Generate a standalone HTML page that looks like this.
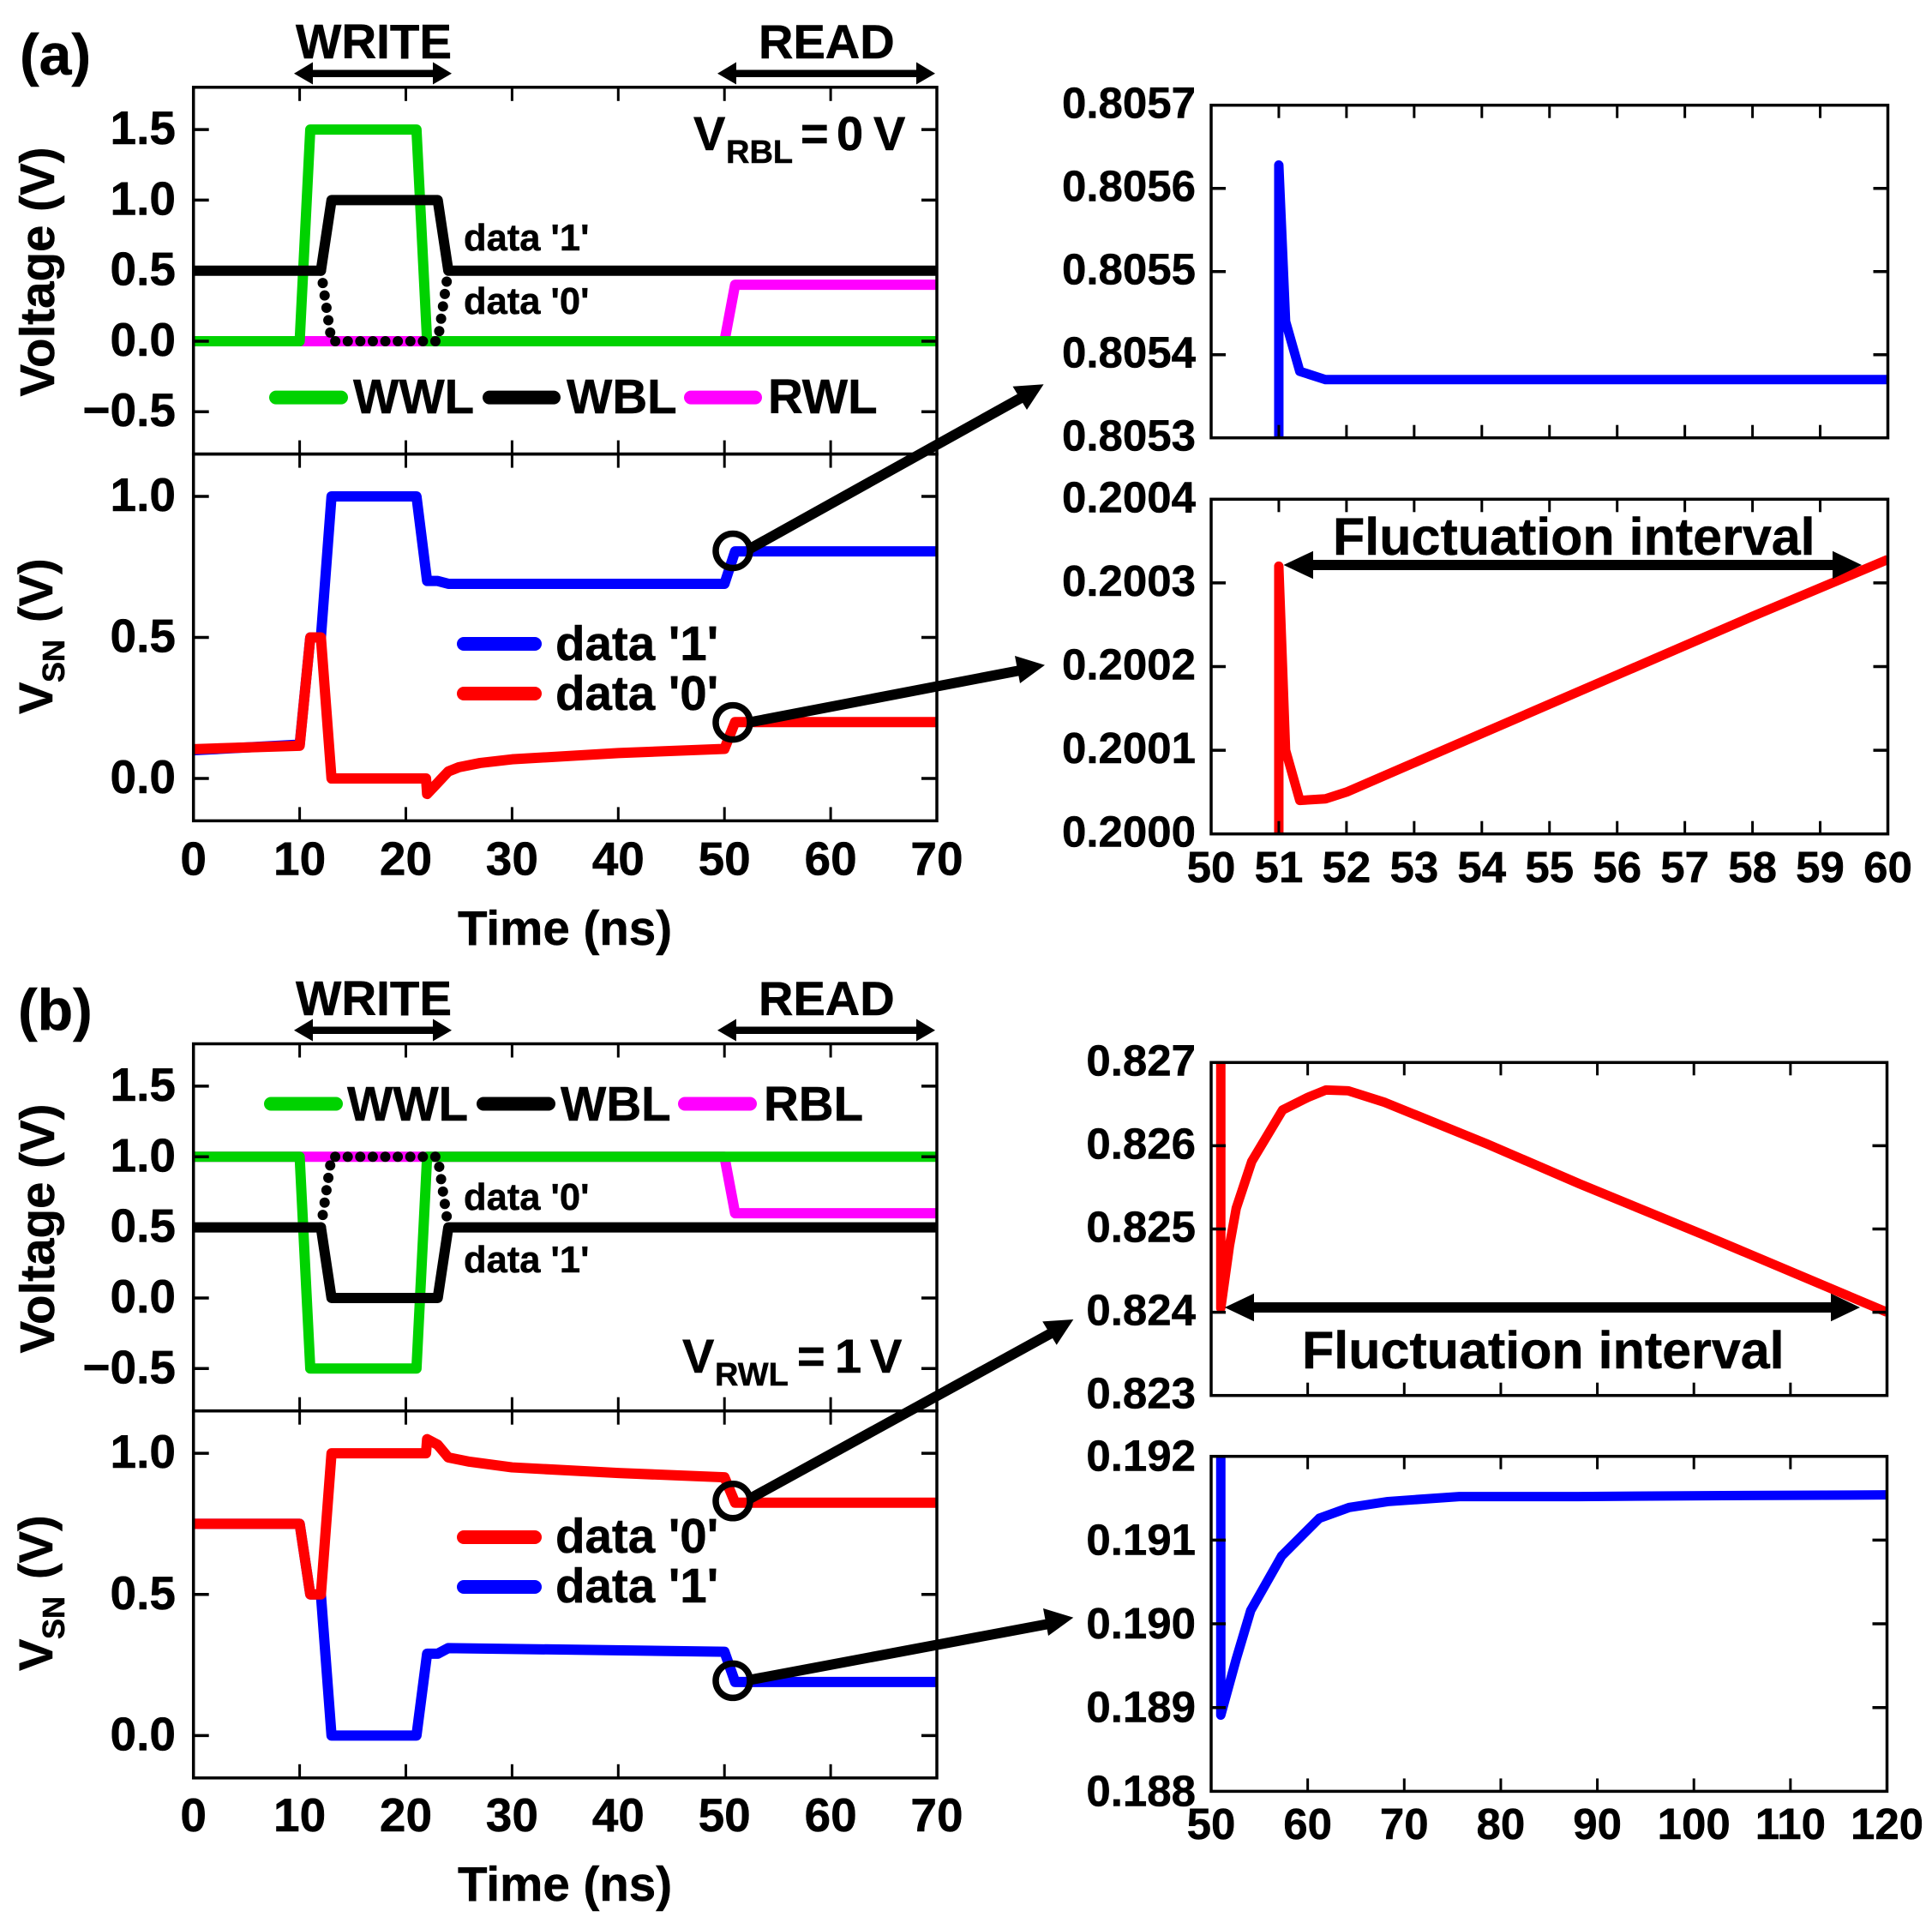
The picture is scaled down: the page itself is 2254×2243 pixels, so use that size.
<!DOCTYPE html>
<html lang="en">
<head>
<meta charset="utf-8">
<title>Transient waveforms of storage node voltage</title>
<style>
html,body{margin:0;padding:0;background:#fff;width:2254px;height:2243px;overflow:hidden}
svg{display:block}
text{font-family:"Liberation Sans",Arial,sans-serif;font-weight:bold;fill:#000;stroke:#000;stroke-width:0.5px}
</style>
</head>
<body>
<svg id="figure" xmlns="http://www.w3.org/2000/svg" width="2254" height="2243" viewBox="0 0 2254 2243">
<rect x="0" y="0" width="2254" height="2243" fill="#fff"/>
<g id="plots"></g>

<g>
<text x="23" y="87" font-size="68">(a)</text>
<text x="345" y="68" font-size="56.5">WRITE</text>
<text x="885" y="68" font-size="56">READ</text>
<g><rect x="362" y="81.5" width="146" height="8.5"/><polygon points="343,85.7 365,72.5 365,98.5"/><polygon points="527,85.7 505,72.5 505,98.5"/></g>
<g><rect x="856" y="81.5" width="216" height="8.5"/><polygon points="837,85.7 859,72.5 859,98.5"/><polygon points="1091,85.7 1069,72.5 1069,98.5"/></g>
<g>
<text x="809" y="175" font-size="56">V</text><text x="847" y="190" font-size="38">RBL</text><text x="934" y="175" font-size="56">=</text><text x="976" y="175" font-size="56">0</text><text x="1019" y="175" font-size="56">V</text>
</g>
<g>
<line x1="322" y1="463.6" x2="398" y2="463.6" stroke="#00d200" stroke-width="16" stroke-linecap="round"/>
<text x="412" y="482" font-size="56.5">WWL</text>
<line x1="571" y1="463.6" x2="646" y2="463.6" stroke="#000" stroke-width="16" stroke-linecap="round"/>
<text x="661" y="482" font-size="56.5">WBL</text>
<line x1="806" y1="463.6" x2="881" y2="463.6" stroke="#ff00ff" stroke-width="16" stroke-linecap="round"/>
<text x="896" y="482" font-size="56.5">RWL</text>
</g>
<text x="541" y="292" font-size="43.5">data '1'</text>
<text x="541" y="366" font-size="43.5">data '0'</text>
<g>
<line x1="541" y1="751" x2="624" y2="751" stroke="#0000ff" stroke-width="16" stroke-linecap="round"/>
<text x="648" y="770" font-size="56.5">data '1'</text>
<line x1="541" y1="809" x2="624" y2="809" stroke="#ff0000" stroke-width="16" stroke-linecap="round"/>
<text x="648" y="828" font-size="56.5">data '0'</text>
</g>
<text transform="translate(63,317) rotate(-90)" text-anchor="middle" font-size="56.5">Voltage (V)</text>
<g>
<text transform="translate(61,833) rotate(-90)" font-size="56">V</text>
<text transform="translate(75,796) rotate(-90)" font-size="36">SN</text>
<text transform="translate(61,726) rotate(-90)" font-size="56">(V)</text>
</g>
<text x="659" y="1102" text-anchor="middle" font-size="56.5">Time (ns)</text>
<text x="1555" y="647" font-size="61">Fluctuation interval</text>
<g><rect x="1525" y="653" width="620" height="12"/><polygon points="1497.5,659 1532,642.7 1532,675.3"/><polygon points="2172,659 2138,642.7 2138,675.3"/></g>
<circle cx="855" cy="642.5" r="20" fill="none" stroke="#000" stroke-width="7.5"/>
<circle cx="855" cy="842.6" r="20" fill="none" stroke="#000" stroke-width="7.5"/>
<g><line x1="875" y1="640" x2="1195" y2="462" stroke="#000" stroke-width="12"/><polygon points="1217.6,448.3 1181.5,450.7 1198,478"/></g>
<g><line x1="872" y1="843" x2="1190" y2="782" stroke="#000" stroke-width="12"/><polygon points="1219,775.7 1184,765 1190,797"/></g>
</g>

<g>
<text x="21" y="1201" font-size="68">(b)</text>
<text x="345" y="1184" font-size="56.5">WRITE</text>
<text x="885" y="1184" font-size="56">READ</text>
<g><rect x="362" y="1197.5" width="146" height="8.5"/><polygon points="343,1201.7 365,1188.5 365,1214.5"/><polygon points="527,1201.7 505,1188.5 505,1214.5"/></g>
<g><rect x="856" y="1197.5" width="216" height="8.5"/><polygon points="837,1201.7 859,1188.5 859,1214.5"/><polygon points="1091,1201.7 1069,1188.5 1069,1214.5"/></g>
<g>
<text x="796" y="1601" font-size="56">V</text><text x="834" y="1616" font-size="38">RWL</text><text x="930" y="1601" font-size="56">=</text><text x="974" y="1601" font-size="56">1</text><text x="1015" y="1601" font-size="56">V</text>
</g>
<g>
<line x1="316" y1="1287.5" x2="392" y2="1287.5" stroke="#00d200" stroke-width="16" stroke-linecap="round"/>
<text x="405" y="1307" font-size="56.5">WWL</text>
<line x1="564" y1="1287.5" x2="640" y2="1287.5" stroke="#000" stroke-width="16" stroke-linecap="round"/>
<text x="654" y="1307" font-size="56.5">WBL</text>
<line x1="799" y1="1287.5" x2="875" y2="1287.5" stroke="#ff00ff" stroke-width="16" stroke-linecap="round"/>
<text x="891" y="1307" font-size="56.5">RBL</text>
</g>
<text x="541" y="1411" font-size="43.5">data '0'</text>
<text x="541" y="1484" font-size="43.5">data '1'</text>
<g>
<line x1="541" y1="1793" x2="624" y2="1793" stroke="#ff0000" stroke-width="16" stroke-linecap="round"/>
<text x="648" y="1811" font-size="56.5">data '0'</text>
<line x1="541" y1="1851" x2="624" y2="1851" stroke="#0000ff" stroke-width="16" stroke-linecap="round"/>
<text x="648" y="1869" font-size="56.5">data '1'</text>
</g>
<text transform="translate(63,1433) rotate(-90)" text-anchor="middle" font-size="56.5">Voltage (V)</text>
<g>
<text transform="translate(61,1949) rotate(-90)" font-size="56">V</text>
<text transform="translate(75,1912) rotate(-90)" font-size="36">SN</text>
<text transform="translate(61,1842) rotate(-90)" font-size="56">(V)</text>
</g>
<text x="659" y="2217" text-anchor="middle" font-size="56.5">Time (ns)</text>
<text x="1519" y="1596" font-size="61">Fluctuation interval</text>
<g><rect x="1456" y="1519" width="690" height="12"/><polygon points="1428.8,1525 1463,1508.7 1463,1541.3"/><polygon points="2170,1525 2136,1508.7 2136,1541.3"/></g>
<circle cx="855" cy="1750.8" r="20" fill="none" stroke="#000" stroke-width="7.5"/>
<circle cx="855" cy="1960.4" r="20" fill="none" stroke="#000" stroke-width="7.5"/>
<g><line x1="875" y1="1748" x2="1230" y2="1553" stroke="#000" stroke-width="12"/><polygon points="1252.3,1539 1216.2,1541.4 1232.7,1568.7"/></g>
<g><line x1="872" y1="1960" x2="1224" y2="1894" stroke="#000" stroke-width="12"/><polygon points="1252.3,1886.8 1217,1876 1223,1908"/></g>
</g>
</svg>
<script>
// ---------- shared axis content ----------
const leftTimeTicks = [0, 10, 20, 30, 40, 50, 60, 70];
const leftTimeLabels = ['0', '10', '20', '30', '40', '50', '60', '70'];
const voltageTicks = [-0.5, 0, 0.5, 1, 1.5];
const voltageLabels = ['\u22120.5', '0.0', '0.5', '1.0', '1.5'];
const vsnTicks = [0, 0.5, 1];
const vsnLabels = ['0.0', '0.5', '1.0'];
const narrowTimeTicks = [50, 51, 52, 53, 54, 55, 56, 57, 58, 59, 60];
const narrowTimeLabels = ['50', '51', '52', '53', '54', '55', '56', '57', '58', '59', '60'];
const wideTimeTicks = [50, 60, 70, 80, 90, 100, 110, 120];
const wideTimeLabels = ['50', '60', '70', '80', '90', '100', '110', '120'];
const a1Ticks = [0.8053, 0.8054, 0.8055, 0.8056, 0.8057];
const a1Labels = ['0.8053', '0.8054', '0.8055', '0.8056', '0.8057'];
const a2Ticks = [0.2000, 0.2001, 0.2002, 0.2003, 0.2004];
const a2Labels = ['0.2000', '0.2001', '0.2002', '0.2003', '0.2004'];
const b1Ticks = [0.823, 0.824, 0.825, 0.826, 0.827];
const b1Labels = ['0.823', '0.824', '0.825', '0.826', '0.827'];
const b2Ticks = [0.188, 0.189, 0.190, 0.191, 0.192];
const b2Labels = ['0.188', '0.189', '0.190', '0.191', '0.192'];

// ---------- panel (a) waveforms ----------
const aWwlT = [0, 10, 11, 21, 22, 70];
const aWwlV = [0, 0, 1.5, 1.5, 0, 0];
const aWbl1T = [0, 12, 13, 23, 24, 70];
const aWbl1V = [0.5, 0.5, 1, 1, 0.5, 0.5];
const aWbl0T = [12, 13, 23, 24];
const aWbl0V = [0.5, 0, 0, 0.5];
const aRwlT = [0, 50, 51, 70];
const aRwlV = [0, 0, 0.4, 0.4];
const aSn1T = [0, 10, 11, 12, 13, 21, 22, 23, 24, 50, 51, 70];
const aSn1V = [0.1, 0.12, 0.5, 0.5, 1, 1, 0.7, 0.7, 0.69, 0.69, 0.805, 0.805];
const aSn0T = [0, 10, 11, 12, 13, 21.9, 22, 23, 24, 25, 27, 30, 40, 50, 51, 70];
const aSn0V = [0.104, 0.116, 0.5, 0.5, 0, 0, -0.055, -0.015, 0.025, 0.04, 0.055, 0.068, 0.09, 0.105, 0.2, 0.2];

// ---------- panel (a) zooms ----------
const a1T = [51, 51, 51.1, 51.31, 51.69, 52, 60];
const a1V = [0.8050, 0.805628, 0.80544, 0.80538, 0.80537, 0.80537, 0.80537];
const a2T = [51, 51, 51.1, 51.31, 51.69, 52, 54, 56, 58, 60];
const a2V = [0.1997, 0.20032, 0.2001, 0.20004, 0.200042, 0.20005, 0.20012, 0.20019, 0.20026, 0.200328];

// ---------- panel (b) waveforms ----------
const bWwlT = [0, 10, 11, 21, 22, 70];
const bWwlV = [1, 1, -0.5, -0.5, 1, 1];
const bWbl1T = [0, 12, 13, 23, 24, 70];
const bWbl1V = [0.5, 0.5, 0, 0, 0.5, 0.5];
const bWbl0T = [12, 13, 23, 24];
const bWbl0V = [0.5, 1, 1, 0.5];
const bRblT = [0, 50, 51, 70];
const bRblV = [1, 1, 0.6, 0.6];
const bSn0T = [0, 10, 11, 12, 13, 21.9, 22, 23, 24, 26, 30, 40, 50, 51, 70];
const bSn0V = [0.75, 0.75, 0.5, 0.5, 1, 1, 1.05, 1.03, 0.985, 0.97, 0.95, 0.93, 0.915, 0.825, 0.825];
const bSn1T = [0, 10, 11, 12, 13, 21, 22, 23, 24, 50, 51, 70];
const bSn1V = [0.75, 0.75, 0.5, 0.5, 0, 0, 0.29, 0.29, 0.31, 0.297, 0.19, 0.19];

// ---------- panel (b) zooms ----------
const b1T = [51, 51, 51.9, 52.6, 54.2, 57.4, 60, 61.9, 64.2, 68, 78.6, 88.2, 101, 120];
const b1V = [0.8275, 0.82405, 0.8248, 0.82525, 0.82581, 0.82643, 0.82658, 0.82667, 0.82666, 0.82652, 0.82602, 0.82554, 0.82493, 0.824];
const b2T = [51, 51, 52.6, 54.1, 57.3, 61.2, 64.3, 68.3, 75.7, 88, 101, 120];
const b2V = [0.1925, 0.18891, 0.18958, 0.19016, 0.19081, 0.19126, 0.19139, 0.19146, 0.19152, 0.19152, 0.19153, 0.19154];

const SVG_NS = 'http://www.w3.org/2000/svg';
const plots = document.getElementById('plots');

function makePanel(name, left, right, top, bottom, xMin, xMax, yMin, yMax) {
  const g = document.createElementNS(SVG_NS, 'g');
  
  
  plots.appendChild(g);
  const clipId = 'clip-' + name;
  const clip = document.createElementNS(SVG_NS, 'clipPath');
  clip.setAttribute('id', clipId);
  const clipRect = document.createElementNS(SVG_NS, 'rect');
  clipRect.setAttribute('x', left);
  clipRect.setAttribute('y', top);
  clipRect.setAttribute('width', right - left);
  clipRect.setAttribute('height', bottom - top);
  clip.appendChild(clipRect);
  g.appendChild(clip);
  return {
    g, clipId, left, right, top, bottom,
    sx: v => left + (v - xMin) / (xMax - xMin) * (right - left),
    sy: v => bottom - (v - yMin) / (yMax - yMin) * (bottom - top)
  };
}

function drawSeries(p, xs, ys, seriesName, color, width) {
  const el = document.createElementNS(SVG_NS, 'polyline');
  
  
  el.setAttribute('points', xs.map((x, i) => p.sx(x).toFixed(2) + ',' + p.sy(ys[i]).toFixed(2)).join(' '));
  el.setAttribute('fill', 'none');
  el.setAttribute('stroke', color);
  el.setAttribute('stroke-width', width);
  el.setAttribute('stroke-linejoin', 'round');
  el.setAttribute('clip-path', 'url(#' + p.clipId + ')');
  p.g.appendChild(el);
}

function drawDots(p, xs, ys, seriesName) {
  const el = document.createElementNS(SVG_NS, 'polyline');
  
  
  el.setAttribute('points', xs.map((x, i) => p.sx(x).toFixed(2) + ',' + p.sy(ys[i]).toFixed(2)).join(' '));
  el.setAttribute('fill', 'none');
  el.setAttribute('stroke', '#000');
  el.setAttribute('stroke-width', '12');
  el.setAttribute('stroke-linecap', 'round');
  el.setAttribute('stroke-dasharray', '0 14.6');
  p.g.appendChild(el);
}

function tickLine(p, x1, y1, x2, y2, width) {
  const el = document.createElementNS(SVG_NS, 'line');
  
  
  el.setAttribute('x1', x1);
  el.setAttribute('y1', y1);
  el.setAttribute('x2', x2);
  el.setAttribute('y2', y2);
  el.setAttribute('stroke', '#000');
  el.setAttribute('stroke-width', width);
  p.g.appendChild(el);
}

function tickText(p, x, y, anchor, str, size) {
  const el = document.createElementNS(SVG_NS, 'text');
  
  
  el.setAttribute('x', x);
  el.setAttribute('y', y);
  el.setAttribute('text-anchor', anchor);
  el.setAttribute('font-size', size);
  el.textContent = str;
  p.g.appendChild(el);
}

function drawAxes(p, xTicks, xLabels, yTicks, yLabels, showXLabels, xLabelY, yLabelX, yLabelDy, xLen, yLen, size) {
  xTicks.forEach((t, i) => {
    const x = p.sx(t);
    if (Math.abs(x - p.left) > 1 && Math.abs(x - p.right) > 1) {
      tickLine(p, x, p.top, x, p.top + xLen, 3);
      tickLine(p, x, p.bottom, x, p.bottom - xLen, 3);
    }
    if (showXLabels) tickText(p, x, xLabelY, 'middle', xLabels[i], size);
  });
  yTicks.forEach((t, i) => {
    const y = p.sy(t);
    if (Math.abs(y - p.top) > 1 && Math.abs(y - p.bottom) > 1) {
      tickLine(p, p.left, y, p.left + yLen, y, 3.5);
      tickLine(p, p.right, y, p.right - yLen, y, 3.5);
    }
    tickText(p, yLabelX, y + yLabelDy, 'end', yLabels[i], size);
  });
  const frame = document.createElementNS(SVG_NS, 'rect');
  
  
  frame.setAttribute('x', p.left);
  frame.setAttribute('y', p.top);
  frame.setAttribute('width', p.right - p.left);
  frame.setAttribute('height', p.bottom - p.top);
  frame.setAttribute('fill', 'none');
  frame.setAttribute('stroke', '#000');
  frame.setAttribute('stroke-width', '3.5');
  p.g.appendChild(frame);
}

const LINE = 12;
const THIN = 11;
const GREEN = '#00d200';
const MAGENTA = '#ff00ff';
const BIG = 55;
const SMALL = 51;

// Panel (a) word-line / bit-line voltages
const pa1 = makePanel('voltage-plot-a', 225.7, 1093, 101.8, 529.6, 0, 70, -0.8, 1.8);
drawSeries(pa1, aRwlT, aRwlV, 'series-rwl', MAGENTA, LINE);
drawSeries(pa1, aWwlT, aWwlV, 'series-wwl', GREEN, LINE);
drawSeries(pa1, aWbl1T, aWbl1V, 'series-wbl-data1', '#000', LINE);
drawDots(pa1, aWbl0T, aWbl0V, 'series-wbl-data0');
drawAxes(pa1, leftTimeTicks, leftTimeLabels, voltageTicks, voltageLabels, false, 0, 205, 17, 16, 18, BIG);

// Panel (a) storage node
const pa2 = makePanel('vsn-plot-a', 225.7, 1093, 529.6, 957.4, 0, 70, -0.15, 1.15);
drawSeries(pa2, aSn1T, aSn1V, 'series-vsn-data1', '#0000ff', LINE);
drawSeries(pa2, aSn0T, aSn0V, 'series-vsn-data0', '#ff0000', LINE);
drawAxes(pa2, leftTimeTicks, leftTimeLabels, vsnTicks, vsnLabels, true, 1020.5, 205, 17, 16, 18, BIG);

// Panel (a) zooms
const pa3 = makePanel('zoom-plot-a-data1', 1413, 2202.5, 122.7, 510.7, 50, 60, 0.8053, 0.8057);
drawSeries(pa3, a1T, a1V, 'series-zoom-a-data1', '#0000ff', THIN);
drawAxes(pa3, narrowTimeTicks, narrowTimeLabels, a1Ticks, a1Labels, false, 0, 1395, 15, 15, 17, SMALL);

const pa4 = makePanel('zoom-plot-a-data0', 1413, 2202.5, 582.3, 972.7, 50, 60, 0.2, 0.2004);
drawSeries(pa4, a2T, a2V, 'series-zoom-a-data0', '#ff0000', THIN);
drawAxes(pa4, narrowTimeTicks, narrowTimeLabels, a2Ticks, a2Labels, true, 1029, 1395, 15, 15, 17, SMALL);

// Panel (b) word-line / bit-line voltages
const pb1 = makePanel('voltage-plot-b', 225.7, 1093, 1217.5, 1645.7, 0, 70, -0.8, 1.8);
drawSeries(pb1, bRblT, bRblV, 'series-rbl', MAGENTA, LINE);
drawSeries(pb1, bWwlT, bWwlV, 'series-wwl', GREEN, LINE);
drawSeries(pb1, bWbl1T, bWbl1V, 'series-wbl-data1', '#000', LINE);
drawDots(pb1, bWbl0T, bWbl0V, 'series-wbl-data0');
drawAxes(pb1, leftTimeTicks, leftTimeLabels, voltageTicks, voltageLabels, false, 0, 205, 17, 16, 18, BIG);

// Panel (b) storage node
const pb2 = makePanel('vsn-plot-b', 225.7, 1093, 1645.7, 2073.8, 0, 70, -0.15, 1.15);
drawSeries(pb2, bSn1T, bSn1V, 'series-vsn-data1', '#0000ff', LINE);
drawSeries(pb2, bSn0T, bSn0V, 'series-vsn-data0', '#ff0000', LINE);
drawAxes(pb2, leftTimeTicks, leftTimeLabels, vsnTicks, vsnLabels, true, 2136, 205, 17, 16, 18, BIG);

// Panel (b) zooms
const pb3 = makePanel('zoom-plot-b-data0', 1413, 2201.5, 1239.3, 1627.7, 50, 120, 0.823, 0.827);
drawSeries(pb3, b1T, b1V, 'series-zoom-b-data0', '#ff0000', THIN);
drawAxes(pb3, wideTimeTicks, wideTimeLabels, b1Ticks, b1Labels, false, 0, 1395, 15, 15, 17, SMALL);

const pb4 = makePanel('zoom-plot-b-data1', 1413, 2201.5, 1698.7, 2089.4, 50, 120, 0.188, 0.192);
drawSeries(pb4, b2T, b2V, 'series-zoom-b-data1', '#0000ff', THIN);
drawAxes(pb4, wideTimeTicks, wideTimeLabels, b2Ticks, b2Labels, true, 2145, 1395, 17, 15, 17, SMALL);
</script>
</body>
</html>
